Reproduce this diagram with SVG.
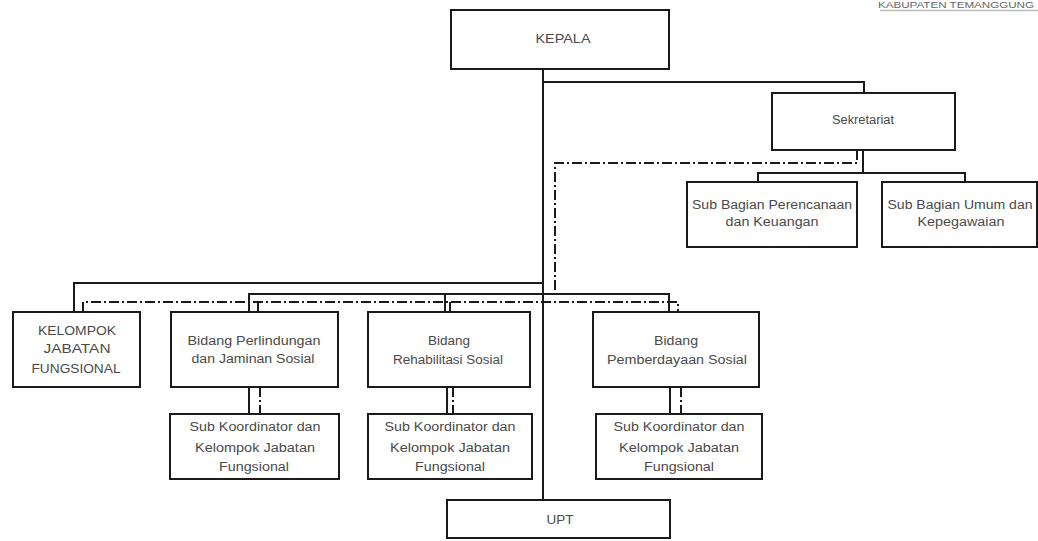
<svg xmlns="http://www.w3.org/2000/svg" width="1038" height="541" viewBox="0 0 1038 541">
<style>
.box{fill:#fff;stroke:#1a1a1a;stroke-width:2}
.t{font-family:"Liberation Sans",Arial,sans-serif;font-size:12px;fill:#4a4a4a;text-anchor:middle}
.ln{fill:none;stroke:#1a1a1a;stroke-width:2}
.dd{fill:none;stroke:#1a1a1a;stroke-width:2;stroke-dasharray:10 3 2 3}
</style>
<rect width="1038" height="541" fill="#fff"/>
<g id="header">
<text x="878" y="7.5" style="font-family:'Liberation Sans',Arial,sans-serif;font-size:8.5px;fill:#666" textLength="156" lengthAdjust="spacingAndGlyphs">KABUPATEN TEMANGGUNG</text>
<path d="M880,10.5H1038" stroke="#bbb" stroke-width="1.5"/>
</g>
<g id="connectors">
<path class="ln" d="M543,69V500M543,82H864V93M863,150V173M758,182V173H965V182M74,312V283H543M249,312V294H669V312M445,294V312M249,387V414M447,387V414M670,387V414"/>
<path class="dd" d="M857,150V163H555V294M83,312V302H678V312M258,302V312M450,302V312M260,387V414M453,387V414M681,387V414"/>
</g>
<g id="kepala"><rect class="box" x="451" y="10" width="218" height="59"/><text class="t" x="563" y="43" textLength="55" lengthAdjust="spacingAndGlyphs">KEPALA</text></g>
<g id="sekretariat"><rect class="box" x="772" y="93" width="183" height="57"/><text class="t" x="863" y="124" textLength="62" lengthAdjust="spacingAndGlyphs">Sekretariat</text></g>
<g id="sub-perencanaan"><rect class="box" x="687" y="182" width="170" height="65"/><text class="t" x="772" y="209" textLength="160" lengthAdjust="spacingAndGlyphs">Sub Bagian Perencanaan</text><text class="t" x="772" y="226" textLength="93" lengthAdjust="spacingAndGlyphs">dan Keuangan</text></g>
<g id="sub-umum"><rect class="box" x="882" y="182" width="155" height="65"/><text class="t" x="960" y="209" textLength="145" lengthAdjust="spacingAndGlyphs">Sub Bagian Umum dan</text><text class="t" x="961" y="226" textLength="87" lengthAdjust="spacingAndGlyphs">Kepegawaian</text></g>
<g id="kelompok"><rect class="box" x="13" y="312" width="127" height="75"/><text class="t" x="77" y="335" textLength="78" lengthAdjust="spacingAndGlyphs">KELOMPOK</text><text class="t" x="77" y="353" textLength="67" lengthAdjust="spacingAndGlyphs">JABATAN</text><text class="t" x="76" y="373" textLength="89" lengthAdjust="spacingAndGlyphs">FUNGSIONAL</text></g>
<g id="bidang-perlindungan"><rect class="box" x="171" y="312" width="167" height="75"/><text class="t" x="254" y="345" textLength="133" lengthAdjust="spacingAndGlyphs">Bidang Perlindungan</text><text class="t" x="253" y="363" textLength="123" lengthAdjust="spacingAndGlyphs">dan Jaminan Sosial</text></g>
<g id="bidang-rehabilitasi"><rect class="box" x="368" y="312" width="162" height="75"/><text class="t" x="449" y="345" textLength="42" lengthAdjust="spacingAndGlyphs">Bidang</text><text class="t" x="448" y="364" textLength="110" lengthAdjust="spacingAndGlyphs">Rehabilitasi Sosial</text></g>
<g id="bidang-pemberdayaan"><rect class="box" x="593" y="312" width="166" height="75"/><text class="t" x="676" y="345" textLength="44" lengthAdjust="spacingAndGlyphs">Bidang</text><text class="t" x="677" y="364" textLength="140" lengthAdjust="spacingAndGlyphs">Pemberdayaan Sosial</text></g>
<g id="subkoord-1"><rect class="box" x="170" y="414" width="169" height="65"/><text class="t" x="255" y="431" textLength="131" lengthAdjust="spacingAndGlyphs">Sub Koordinator dan</text><text class="t" x="255" y="452" textLength="120" lengthAdjust="spacingAndGlyphs">Kelompok Jabatan</text><text class="t" x="254" y="471" textLength="70" lengthAdjust="spacingAndGlyphs">Fungsional</text></g>
<g id="subkoord-2"><rect class="box" x="368" y="414" width="164" height="65"/><text class="t" x="450" y="431" textLength="131" lengthAdjust="spacingAndGlyphs">Sub Koordinator dan</text><text class="t" x="450" y="452" textLength="120" lengthAdjust="spacingAndGlyphs">Kelompok Jabatan</text><text class="t" x="450" y="471" textLength="70" lengthAdjust="spacingAndGlyphs">Fungsional</text></g>
<g id="subkoord-3"><rect class="box" x="596" y="414" width="166" height="65"/><text class="t" x="679" y="431" textLength="131" lengthAdjust="spacingAndGlyphs">Sub Koordinator dan</text><text class="t" x="679" y="452" textLength="120" lengthAdjust="spacingAndGlyphs">Kelompok Jabatan</text><text class="t" x="679" y="471" textLength="70" lengthAdjust="spacingAndGlyphs">Fungsional</text></g>
<g id="upt"><rect class="box" x="447" y="500" width="223" height="38"/><text class="t" x="560" y="524" textLength="27" lengthAdjust="spacingAndGlyphs">UPT</text></g>
</svg>
